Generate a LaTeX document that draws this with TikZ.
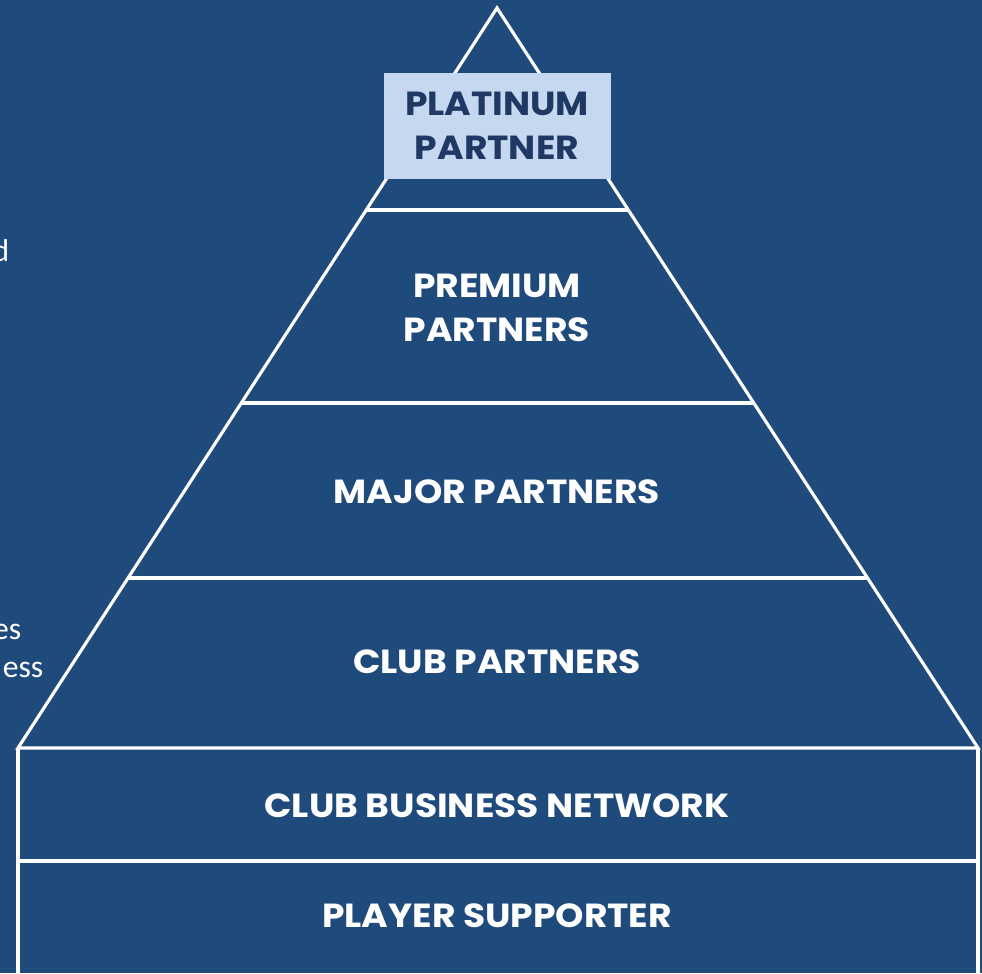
\documentclass[tikz,border=0pt]{standalone}
\usepackage{fontspec}
\setmainfont{Poppins}
\newfontfamily\tierfont[FakeStretch=1.08]{Poppins}
\newfontfamily\bodyfont{Carlito}
\definecolor{navy}{HTML}{1F4A7C}
\definecolor{platfill}{HTML}{C5D8EF}
\definecolor{plattext}{HTML}{1F3864}

\begin{document}
\begin{tikzpicture}[
  edge/.style={line width=0.9pt,color=white},
  tier/.style={font=\tierfont\fontsize{9.5}{12.6}\selectfont\bfseries,color=white,align=center},
  side/.style={font=\bodyfont\fontsize{9}{12}\selectfont,color=white,anchor=base east,inner sep=0pt}]
\fill[navy](0,0) rectangle (9.82,9.73);
\useasboundingbox (0,0) rectangle (9.82,9.73);
\node[side] (sidea) at (0.10,7.11) {d};
\node[side] (sideb) at (0.22,3.33) {es};
\node[side] (sidec) at (0.44,2.95) {ess};
\coordinate (apex) at (4.97,9.65);
\coordinate (bl) at (0.18,2.25);
\coordinate (br) at (9.78,2.25);
\begin{scope}
\clip (apex)--(bl)--(br)--cycle;
\draw[edge](0,7.63)--(9.82,7.63);
\draw[edge](0,5.70)--(9.82,5.70);
\draw[edge](0,3.95)--(9.82,3.95);
\end{scope}
\draw[edge,line join=miter](bl)--(apex)--(br)--cycle;
\draw[edge](bl)--(0.18,0);
\draw[edge](br)--(9.78,0);
\draw[edge](0.18,1.12)--(9.78,1.12);
\fill[platfill](3.84,7.94) rectangle (6.11,9.00);
\node[tier,color=plattext] (platinum) at (4.97,8.47) {PLATINUM\\PARTNER};
\node[tier] (premium) at (4.97,6.65) {PREMIUM\\PARTNERS};
\node[tier] (major) at (4.97,4.81) {MAJOR PARTNERS};
\node[tier] (club) at (4.97,3.11) {CLUB PARTNERS};
\node[tier] (network) at (4.97,1.67) {CLUB BUSINESS NETWORK};
\node[tier] (player) at (4.97,0.57) {PLAYER SUPPORTER};
\end{tikzpicture}
\end{document}
